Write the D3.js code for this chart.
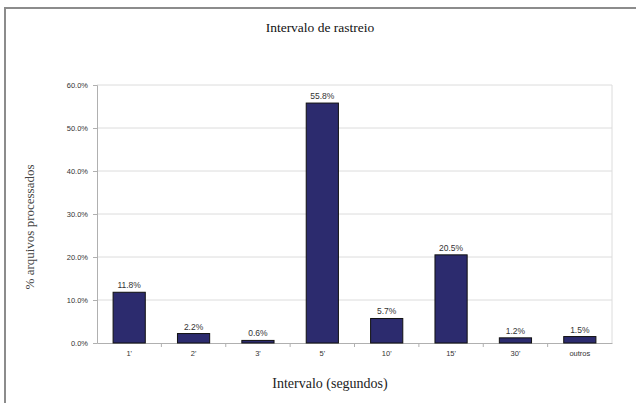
<!DOCTYPE html>
<html>
<head>
<meta charset="utf-8">
<script src="https://cdn.jsdelivr.net/npm/d3@7"></script>
<style>
  body { margin: 0; background: #fff; }
  svg { display: block; }
</style>
</head>
<body>
<div id="container"></div>
<script>
/* DATA */
const categories = ["1'", "2'", "3'", "5'", "10'", "15'", "30'", "outros"];
const values = [11.8, 2.2, 0.6, 55.8, 5.7, 20.5, 1.2, 1.5];
const yTicks = [0, 10, 20, 30, 40, 50, 60];

/* CONSTANTS */
const width = 636;
const height = 403;
const margin = { top: 85, right: 24, bottom: 60, left: 97 };

const svg = d3.select("#container")
  .append("svg")
  .attr("width", width)
  .attr("height", height);

// outer chart frame (runs off the right / bottom of the picture)
svg.append("rect")
  .attr("x", 5)
  .attr("y", 8)
  .attr("width", 700)
  .attr("height", 500)
  .attr("fill", "none")
  .attr("stroke", "#8c8c8c")
  .attr("stroke-width", 2);

/* SCALES */
const xScale = d3.scaleBand()
  .domain(categories)
  .range([margin.left, width - margin.right])
  .paddingInner(0.5)
  .paddingOuter(0.25);

const yScale = d3.scaleLinear()
  .domain([0, 60])
  .range([height - margin.bottom, margin.top]);

// band boundaries for the x ticks
const xOuter = d3.scaleBand()
  .domain(categories)
  .range([margin.left, width - margin.right]);

/* GRID */
svg.append("g")
  .selectAll("line")
  .data(yTicks.filter(d => d > 0))
  .join("line")
  .attr("x1", margin.left)
  .attr("x2", width - margin.right)
  .attr("y1", d => yScale(d))
  .attr("y2", d => yScale(d))
  .attr("stroke", "#dcdcdc");

// plot area right edge
svg.append("line")
  .attr("x1", width - margin.right)
  .attr("x2", width - margin.right)
  .attr("y1", yScale(60))
  .attr("y2", yScale(0))
  .attr("stroke", "#dcdcdc");

/* AXES */
const yAxis = d3.axisLeft(yScale)
  .tickValues(yTicks)
  .tickSize(4)
  .tickPadding(5)
  .tickFormat(d => d.toFixed(1) + "%");

const yAxisGroup = svg.append("g")
  .attr("transform", `translate(${margin.left},0)`)
  .call(yAxis);

const xAxis = d3.axisBottom(xScale)
  .tickSize(0)
  .tickPadding(8);

const xAxisGroup = svg.append("g")
  .attr("transform", `translate(0,${yScale(0)})`)
  .call(xAxis);

// tick marks between categories
svg.append("g")
  .selectAll("line")
  .data(categories.slice(1))
  .join("line")
  .attr("x1", d => xOuter(d))
  .attr("x2", d => xOuter(d))
  .attr("y1", yScale(0))
  .attr("y2", yScale(0) + 4)
  .attr("stroke", "#b0b0b0");

[yAxisGroup, xAxisGroup].forEach(g => {
  g.selectAll(".domain").attr("stroke", "#b0b0b0");
  g.selectAll(".tick line").attr("stroke", "#b0b0b0");
  g.selectAll("text")
    .attr("fill", "#333")
    .style("font-family", "'Liberation Sans', Arial, sans-serif")
    .style("font-size", "7.5px");
});

/* BARS */
svg.append("g")
  .selectAll("rect.bar")
  .data(values)
  .join("rect")
  .attr("class", "bar")
  .attr("x", (d, i) => xScale(categories[i]))
  .attr("y", d => yScale(d))
  .attr("width", xScale.bandwidth())
  .attr("height", d => yScale(0) - yScale(d))
  .attr("fill", "#2c2b6e")
  .attr("stroke", "#111")
  .attr("stroke-width", 1);

// value labels
svg.append("g")
  .selectAll("text")
  .data(values)
  .join("text")
  .attr("x", (d, i) => xScale(categories[i]) + xScale.bandwidth() / 2)
  .attr("y", d => yScale(d) - 4)
  .attr("text-anchor", "middle")
  .attr("fill", "#333")
  .style("font-family", "'Liberation Sans', Arial, sans-serif")
  .style("font-size", "8.5px")
  .text(d => d.toFixed(1) + "%");

/* TITLES */
svg.append("text")
  .attr("x", 320)
  .attr("y", 32)
  .attr("text-anchor", "middle")
  .attr("fill", "#111")
  .style("font-family", "'Liberation Serif', 'Times New Roman', serif")
  .style("font-size", "13.5px")
  .text("Intervalo de rastreio");

svg.append("text")
  .attr("x", 330)
  .attr("y", 388)
  .attr("text-anchor", "middle")
  .attr("fill", "#222")
  .style("font-family", "'Liberation Serif', 'Times New Roman', serif")
  .style("font-size", "14px")
  .text("Intervalo (segundos)");

svg.append("text")
  .attr("transform", `translate(34,227) rotate(-90)`)
  .attr("text-anchor", "middle")
  .attr("fill", "#444")
  .style("font-family", "'Liberation Serif', 'Times New Roman', serif")
  .style("font-size", "13px")
  .text("% arquivos processados");
</script>
</body>
</html>
